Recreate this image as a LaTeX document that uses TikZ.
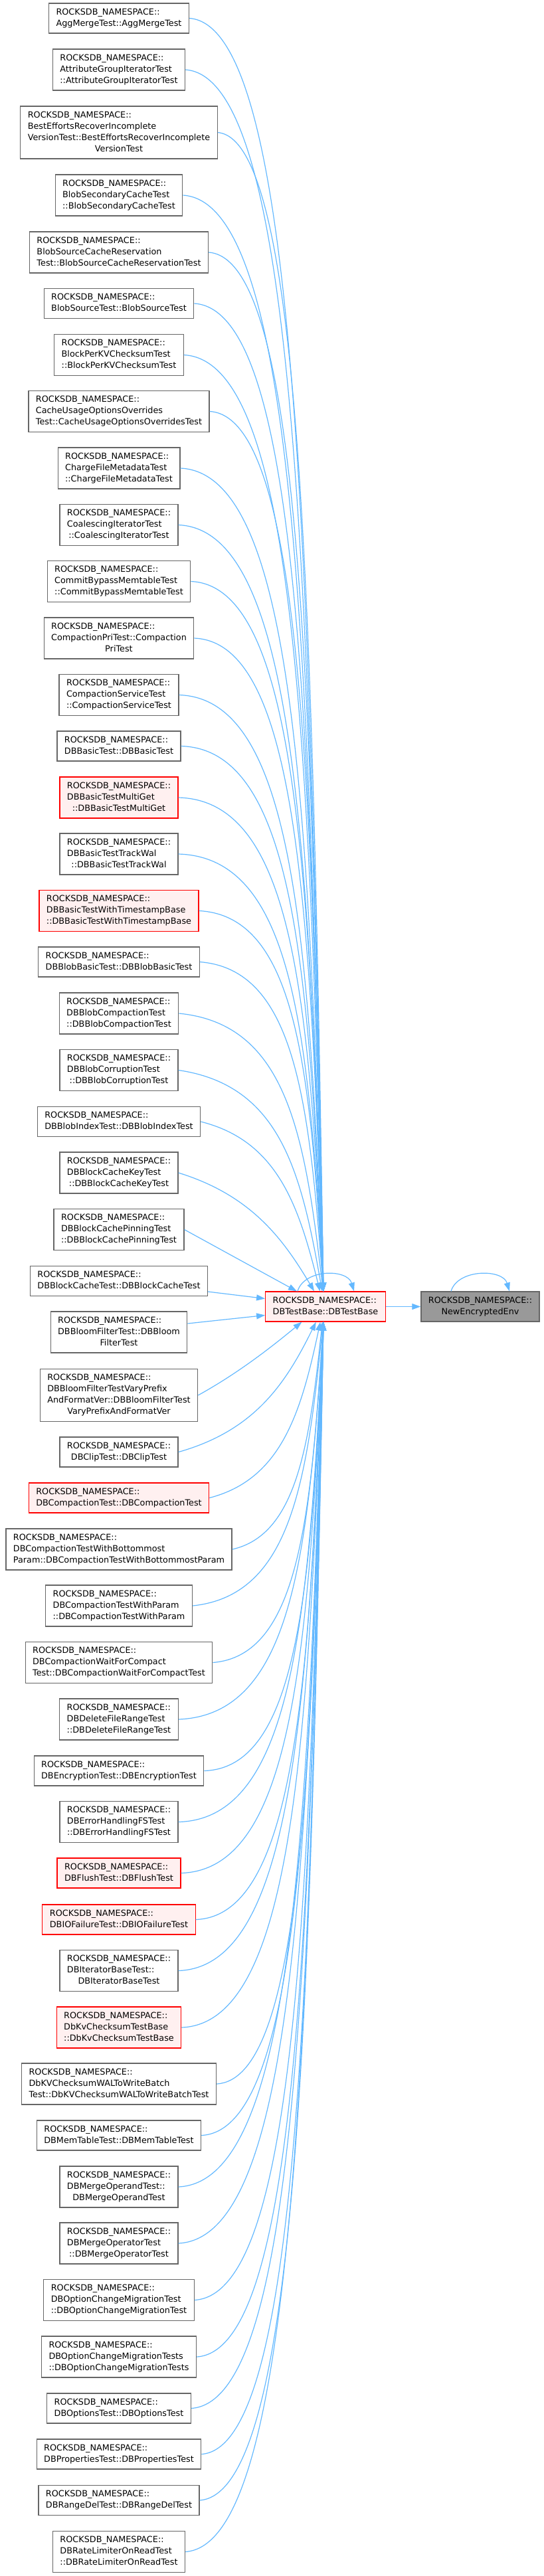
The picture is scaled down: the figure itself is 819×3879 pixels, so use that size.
\documentclass[tikz,border=0pt]{standalone}
\usepackage{fontspec}
\setmainfont{DejaVu Sans}
\usetikzlibrary{arrows.meta}

\definecolor{edgeblue}{HTML}{63B8FF}
\definecolor{boxgray}{HTML}{666666}
\definecolor{hotfill}{HTML}{FFF0F0}
\definecolor{curfill}{HTML}{999999}

\newcommand{\rns}{ROCKSDB\_NAMESPACE::}
\newcommand{\lastln}[1]{\hfil#1}
\newcommand{\lbl}[1]{\begin{tabular}{@{}l@{}}\rns\\#1\end{tabular}}

\tikzset{
  plainbox/.style={draw=boxgray, fill=white, line width=1.2pt, inner xsep=11pt, inner ysep=5.5pt,
    font=\fontsize{12.8}{17}\selectfont},
  hotbox/.style={plainbox, draw=red, fill=hotfill},
  curbox/.style={plainbox, fill=curfill},
  edge/.style={draw=edgeblue, line width=1.2pt, -{Triangle[length=13pt,width=9pt]}},
}

\begin{document}
\begin{tikzpicture}[x=1pt, y=1pt]
    \useasboundingbox (0,0) rectangle (819,-3879);

    % Base class and the function it calls
    \node[hotbox] (base) at (490,-1967.5) {\lbl{\lastln{DBTestBase::DBTestBase}}};
    \node[curbox] (env) at (723,-1967.5) {\lbl{\lastln{NewEncryptedEnv}}};

    % Self calls and the call to the right
    \draw[edge] ([xshift=-42pt]base.north) .. controls +(10,34) and +(-10,34) .. ([xshift=43pt]base.north);
    \draw[edge] ([xshift=-44pt]env.north) .. controls +(10,34) and +(-10,34) .. ([xshift=44pt]env.north);
    \draw[edge] (base.east) -- (env.west);

    % Callers (side: 1 = into the top, -1 = into the bottom, 0 = drawn below)
    \foreach \nm/\yy/\txt/\kind/\sd in {
        t01/27.5/\lastln{AggMergeTest::AggMergeTest}/plainbox/1,
        t02/105/{AttributeGroupIteratorTest\\\lastln{::AttributeGroupIteratorTest}}/plainbox/1,
        t03/199.5/{BestEffortsRecoverIncomplete\\VersionTest::BestEffortsRecoverIncomplete\\\lastln{VersionTest}}/plainbox/1,
        t04/294/{BlobSecondaryCacheTest\\\lastln{::BlobSecondaryCacheTest}}/plainbox/1,
        t05/380/{BlobSourceCacheReservation\\\lastln{Test::BlobSourceCacheReservationTest}}/plainbox/1,
        t06/457/\lastln{BlobSourceTest::BlobSourceTest}/plainbox/1,
        t07/534.5/{BlockPerKVChecksumTest\\\lastln{::BlockPerKVChecksumTest}}/plainbox/1,
        t08/619.5/{CacheUsageOptionsOverrides\\\lastln{Test::CacheUsageOptionsOverridesTest}}/plainbox/1,
        t09/705/{ChargeFileMetadataTest\\\lastln{::ChargeFileMetadataTest}}/plainbox/1,
        t10/790.5/{CoalescingIteratorTest\\\lastln{::CoalescingIteratorTest}}/plainbox/1,
        t11/875.5/{CommitBypassMemtableTest\\\lastln{::CommitBypassMemtableTest}}/plainbox/1,
        t12/961/{CompactionPriTest::Compaction\\\lastln{PriTest}}/plainbox/1,
        t13/1046.5/{CompactionServiceTest\\\lastln{::CompactionServiceTest}}/plainbox/1,
        t14/1123.5/\lastln{DBBasicTest::DBBasicTest}/plainbox/1,
        t15/1201/{DBBasicTestMultiGet\\\lastln{::DBBasicTestMultiGet}}/hotbox/1,
        t16/1286/{DBBasicTestTrackWal\\\lastln{::DBBasicTestTrackWal}}/plainbox/1,
        t17/1371.5/{DBBasicTestWithTimestampBase\\\lastln{::DBBasicTestWithTimestampBase}}/hotbox/1,
        t18/1448.5/\lastln{DBBlobBasicTest::DBBlobBasicTest}/plainbox/1,
        t19/1526/{DBBlobCompactionTest\\\lastln{::DBBlobCompactionTest}}/plainbox/1,
        t20/1611.5/{DBBlobCorruptionTest\\\lastln{::DBBlobCorruptionTest}}/plainbox/1,
        t21/1689/\lastln{DBBlobIndexTest::DBBlobIndexTest}/plainbox/1,
        t22/1766/{DBBlockCacheKeyTest\\\lastln{::DBBlockCacheKeyTest}}/plainbox/1,
        t23/1851.5/{DBBlockCachePinningTest\\\lastln{::DBBlockCachePinningTest}}/plainbox/1,
        t24/1929/\lastln{DBBlockCacheTest::DBBlockCacheTest}/plainbox/0,
        t25/2006/{DBBloomFilterTest::DBBloom\\\lastln{FilterTest}}/plainbox/0,
        t26/2101/{DBBloomFilterTestVaryPrefix\\AndFormatVer::DBBloomFilterTest\\\lastln{VaryPrefixAndFormatVer}}/plainbox/-1,
        t27/2186.5/\lastln{DBClipTest::DBClipTest}/plainbox/-1,
        t28/2255.5/\lastln{DBCompactionTest::DBCompactionTest}/hotbox/-1,
        t29/2333/{DBCompactionTestWithBottommost\\\lastln{Param::DBCompactionTestWithBottommostParam}}/plainbox/-1,
        t30/2418/{DBCompactionTestWithParam\\\lastln{::DBCompactionTestWithParam}}/plainbox/-1,
        t31/2503.5/{DBCompactionWaitForCompact\\\lastln{Test::DBCompactionWaitForCompactTest}}/plainbox/-1,
        t32/2589/{DBDeleteFileRangeTest\\\lastln{::DBDeleteFileRangeTest}}/plainbox/-1,
        t33/2666.5/\lastln{DBEncryptionTest::DBEncryptionTest}/plainbox/-1,
        t34/2743.5/{DBErrorHandlingFSTest\\\lastln{::DBErrorHandlingFSTest}}/plainbox/-1,
        t35/2820.5/\lastln{DBFlushTest::DBFlushTest}/hotbox/-1,
        t36/2890.5/\lastln{DBIOFailureTest::DBIOFailureTest}/hotbox/-1,
        t37/2967.5/{DBIteratorBaseTest::\\\lastln{DBIteratorBaseTest}}/plainbox/-1,
        t38/3053/{DbKvChecksumTestBase\\\lastln{::DbKvChecksumTestBase}}/hotbox/-1,
        t39/3138/{DbKVChecksumWALToWriteBatch\\\lastln{Test::DbKVChecksumWALToWriteBatchTest}}/plainbox/-1,
        t40/3215.5/\lastln{DBMemTableTest::DBMemTableTest}/plainbox/-1,
        t41/3293/{DBMergeOperandTest::\\\lastln{DBMergeOperandTest}}/plainbox/-1,
        t42/3378/{DBMergeOperatorTest\\\lastln{::DBMergeOperatorTest}}/plainbox/-1,
        t43/3463.5/{DBOptionChangeMigrationTest\\\lastln{::DBOptionChangeMigrationTest}}/plainbox/-1,
        t44/3549/{DBOptionChangeMigrationTests\\\lastln{::DBOptionChangeMigrationTests}}/plainbox/-1,
        t45/3626.5/\lastln{DBOptionsTest::DBOptionsTest}/plainbox/-1,
        t46/3695.5/\lastln{DBPropertiesTest::DBPropertiesTest}/plainbox/-1,
        t47/3765/\lastln{DBRangeDelTest::DBRangeDelTest}/plainbox/-1,
        t48/3842.5/{DBRateLimiterOnReadTest\\\lastln{::DBRateLimiterOnReadTest}}/plainbox/-1%
    }{
        \node[\kind] (\nm) at (179,-\yy) {\lbl{\txt}};
        \ifnum\sd=0\relax\else
            \ifnum\sd>0 \def\anc{north}\else\def\anc{south}\fi
            \path (\nm.east); \pgfgetlastxy{\ex}{\ey}
            \path (base.\anc); \pgfgetlastxy{\bxx}{\ty}
            \pgfmathsetmacro\dd{abs(\ty-\ey)}
            \pgfmathsetmacro\qq{min(max(\dd-94,0),600)}
            \pgfmathsetmacro\ss{exp(-\qq/150)}
            \pgfmathsetmacro\ox{-3-40*exp(-\qq/80)}
            \pgfmathsetmacro\tx{\bxx+\ox}
            \pgfmathsetmacro\hh{\tx-\ex}
            \pgfmathsetmacro\ax{\ex+(0.8-0.47*\ss)*\hh}
            \pgfmathsetmacro\ay{\ey-(\sd)*0.33*\ss*\dd}
            \pgfmathsetmacro\bx{\tx-(0.1+0.23*\ss)*\hh}
            \pgfmathsetmacro\by{\ty+(\sd)*(0.6-0.27*\ss)*\dd}
            \draw[edge] (\nm.east) .. controls (\ax,\ay) and (\bx,\by) .. ([xshift=\ox pt]base.\anc);
        \fi
    }

    % The two callers that reach the left side
    \draw[edge] ([yshift=-16pt]t24.east) -- ([yshift=12pt]base.west);
    \draw[edge] ([yshift=13pt]t25.east) -- ([yshift=-13pt]base.west);
\end{tikzpicture}
\end{document}
